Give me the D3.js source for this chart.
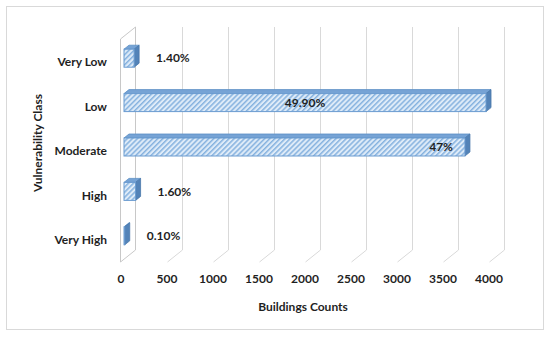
<!DOCTYPE html>
<html>
<head>
<meta charset="utf-8">
<script src="https://cdn.jsdelivr.net/npm/d3@7"></script>
<style>
  body { margin: 0; background: #fff; }
  svg text { font-family: Lato, "Liberation Sans", sans-serif; font-weight: bold; }
</style>
</head>
<body>
<svg id="chart" width="550" height="337"></svg>
<script>
// data
var categories = ['Very Low', 'Low', 'Moderate', 'High', 'Very High'];
var counts = [110, 3935, 3706, 126, 8];
var pctLabels = ['1.40%', '49.90%', '47%', '1.60%', '0.10%'];
var ticks = [0, 500, 1000, 1500, 2000, 2500, 3000, 3500, 4000];

var svg = d3.select('#chart');

// 3d offsets
var depth = {dx: 15, dy: -12};
var barShift = {dx: 3, dy: -4};
var barDepth = {dx: 5, dy: -4};
var barH = 18;
var fs = 12;

var x = d3.scaleLinear().domain([0, 4000]).range([121, 489]);
var y = d3.scaleBand().domain(categories).range([40, 262]);

var floorY = 262, backTop = 27, backBottom = floorY + depth.dy;

svg.append('rect')
	.attr('x', 6.5).attr('y', 6.5)
	.attr('width', 537).attr('height', 323)
	.attr('fill', '#fff')
	.attr('stroke', '#d9d9d9');

var defs = svg.append('defs');
var pat = defs.append('pattern')
	.attr('id', 'hatch')
	.attr('patternUnits', 'userSpaceOnUse')
	.attr('width', 3.6).attr('height', 3.6)
	.attr('patternTransform', 'rotate(45)');
pat.append('rect').attr('width', 3.6).attr('height', 3.6).attr('fill', '#deebf8');
pat.append('rect').attr('width', 1.5).attr('height', 3.6).attr('fill', '#86b2df');

// gridlines: back wall + floor
var grid = svg.append('g').attr('fill', 'none').attr('stroke', '#d9d9d9').attr('stroke-width', 1);
ticks.slice(1).forEach(function(t) {
	var xf = Math.round(x(t)) + 0.5;
	var xb = xf + depth.dx;
	grid.append('path')
		.attr('d', 'M' + xb + ',' + backTop + 'L' + xb + ',' + backBottom + 'L' + xf + ',' + floorY);
});

// left wall
var x0 = Math.round(x(0)) - 0.5;
grid.append('path')
	.attr('stroke', '#c8c8c8')
	.attr('d', 'M' + x0 + ',' + (backTop - depth.dy) +
		'L' + (x0 + depth.dx) + ',' + backTop +
		'L' + (x0 + depth.dx) + ',' + backBottom +
		'L' + x0 + ',' + floorY + 'Z');

// bars
var bars = svg.append('g').selectAll('g')
	.data(categories)
	.enter()
	.append('g');

bars.each(function(c, i) {
	var g = d3.select(this);
	var xa = x(0) + barShift.dx;
	var xe = x(counts[i]) + barShift.dx;
	var yc = y(c) + y.bandwidth() / 2 + barShift.dy;
	var yt = yc - barH / 2, yb = yc + barH / 2;
	// top face
	g.append('path')
		.attr('d', 'M' + xa + ',' + yt + 'L' + (xa + barDepth.dx) + ',' + (yt + barDepth.dy) +
			'L' + (xe + barDepth.dx) + ',' + (yt + barDepth.dy) + 'L' + xe + ',' + yt + 'Z')
		.attr('fill', '#76a3d5')
		.attr('stroke', '#5b8ec4')
		.attr('stroke-width', 0.8);
	// side face
	g.append('path')
		.attr('d', 'M' + xe + ',' + yt + 'L' + (xe + barDepth.dx) + ',' + (yt + barDepth.dy) +
			'L' + (xe + barDepth.dx) + ',' + (yb + barDepth.dy) + 'L' + xe + ',' + yb + 'Z')
		.attr('fill', '#5383b8')
		.attr('stroke', '#4a78ab')
		.attr('stroke-width', 0.8);
	// front face
	g.append('rect')
		.attr('x', xa).attr('y', yt)
		.attr('width', Math.max(xe - xa, 0.5))
		.attr('height', barH)
		.attr('fill', 'url(#hatch)')
		.attr('stroke', '#6a9bd0')
		.attr('stroke-width', 1);

	// data label
	var v = counts[i], lx, anchor;
	if (v > 3800) { lx = (xa + xe) / 2; anchor = 'middle'; }
	else if (v > 1000) { lx = xe - 12; anchor = 'end'; }
	else { lx = xe + 22; anchor = 'start'; }
	g.append('text')
		.attr('x', lx).attr('y', yc)
		.attr('dy', '0.35em')
		.attr('text-anchor', anchor)
		.attr('font-size', fs)
		.attr('fill', '#1f1f1f')
		.text(pctLabels[i]);
});

// category labels
svg.append('g').selectAll('text')
	.data(categories)
	.enter()
	.append('text')
	.attr('x', 107)
	.attr('y', function(d) { return y(d) + y.bandwidth() / 2; })
	.attr('dy', '0.35em')
	.attr('text-anchor', 'end')
	.attr('font-size', fs)
	.attr('fill', '#1f1f1f')
	.text(function(d) { return d; });

// tick labels
svg.append('g').selectAll('text')
	.data(ticks)
	.enter()
	.append('text')
	.attr('x', function(d) { return x(d); })
	.attr('y', 279)
	.attr('dy', '0.35em')
	.attr('text-anchor', 'middle')
	.attr('font-size', fs)
	.attr('fill', '#1f1f1f')
	.text(function(d) { return d; });

// axis titles
svg.append('text')
	.attr('x', 303).attr('y', 307)
	.attr('dy', '0.35em')
	.attr('text-anchor', 'middle')
	.attr('font-size', fs)
	.attr('fill', '#1f1f1f')
	.text('Buildings Counts');

svg.append('text')
	.attr('transform', 'translate(38,143) rotate(-90)')
	.attr('dy', '0.35em')
	.attr('text-anchor', 'middle')
	.attr('font-size', fs)
	.attr('fill', '#1f1f1f')
	.text('Vulnerability Class');
</script>
</body>
</html>
